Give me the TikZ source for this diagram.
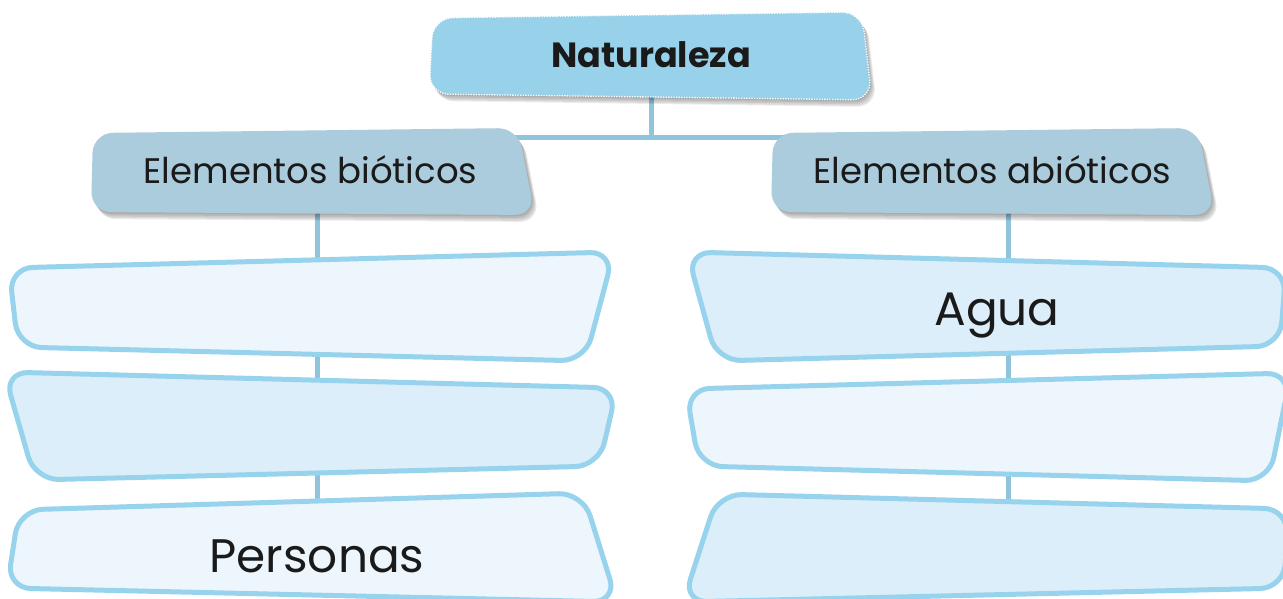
\documentclass[tikz,border=0pt]{standalone}
\usepackage{fontspec}
\setmainfont{Poppins}
\usetikzlibrary{calc}
\definecolor{natfill}{HTML}{97D1EA}
\definecolor{lvltwo}{HTML}{ABCCDC}
\definecolor{pale}{HTML}{EEF6FD}
\definecolor{soft}{HTML}{DCEEF9}
\definecolor{rim}{HTML}{97D3EC}
\definecolor{connc}{HTML}{8EC5DC}
\definecolor{ink}{HTML}{1A1A1A}
\newcommand\qfill[5]{\path[#1] ($(#2)!.5!(#3)$) -- (#3) -- (#4) -- (#5) -- (#2) -- cycle;}
\newcommand\qshadow[5]{%
  \foreach \sx/\sy in {1/1.5,2/3,3/4.5,4/6,5/7}{%
    \qfill{fill=black,opacity=0.075,rounded corners=#1,shift={(\sx,\sy)}}{#2}{#3}{#4}{#5}}}
\tikzset{
  lvlthree/.style={draw=rim,line width=5pt,rounded corners=24pt},
  lvltwobox/.style={fill=lvltwo,rounded corners=20pt},
  natbox/.style={fill=natfill,rounded corners=20pt,draw=white,line width=1.3pt,dash pattern=on 1.3pt off 1.3pt},
  connector/.style={draw=connc,line width=5pt},
  txtbig/.style={font=\fontsize{47}{54}\selectfont,text=ink,anchor=base,inner sep=0pt},
  txtmid/.style={font=\fontsize{35.5}{40}\selectfont,text=ink,anchor=base,inner sep=0pt},
  txtbold/.style={font=\fontsize{35}{40}\selectfont\bfseries,text=ink,anchor=base,inner sep=0pt},
}
\begin{document}
\begin{tikzpicture}[x=1pt,y=-1pt]
\useasboundingbox (0,0) rectangle (1283,599);
\clip (0,0) rectangle (1283,599);
\fill[white] (0,0) rectangle (1283,599);
% anchor coordinates of boxes
\coordinate (nat) at (651,56);
\coordinate (hub) at (651,138);
\coordinate (bio) at (317,172);
\coordinate (abio) at (1008,172);
\coordinate (l1) at (317,305);
\coordinate (l2) at (317,425);
\coordinate (l3) at (317,550);
\coordinate (r1) at (1008,305);
\coordinate (r2) at (1008,425);
\coordinate (r3) at (1008,550);
% connectors
\draw[connector] (nat) -- (hub);
\draw[connector] (bio) |- (hub) -| (abio);
\draw[connector] (bio) -- (l1);
\draw[connector] (l1) -- (l2);
\draw[connector] (l2) -- (l3);
\draw[connector] (abio) -- (r1);
\draw[connector] (r1) -- (r2);
\draw[connector] (r2) -- (r3);
% top box
\qshadow{20pt}{433,18}{862,12}{872,100}{429,94}
\qfill{natbox}{433,18}{862,12}{872,100}{429,94}
% level two
\qshadow{20pt}{93,133}{518,128}{535,215}{91,212}
\qfill{lvltwobox}{93,133}{518,128}{535,215}{91,212}
\qshadow{20pt}{773,133}{1198,128}{1215,215}{771,212}
\qfill{lvltwobox}{773,133}{1198,128}{1215,215}{771,212}
% level three
\qfill{lvlthree,fill=pale}{9,268}{614,252}{585,361}{18,347}
\qfill{lvlthree,fill=soft}{4,372}{617,388}{599,466}{35,480}
\qfill{lvlthree,fill=pale}{19,510}{583,493}{617,602}{7,588}
\qfill{lvlthree,fill=soft}{687,252}{1286,268}{1280,346}{717,361}
\qfill{lvlthree,fill=pale}{686,389}{1291,373}{1269,481}{699,466}
\qfill{lvlthree,fill=soft}{718,494}{1288,509}{1284,588}{683,602}
% texts
\node[txtbold] (natT) at (651,68) {Naturaleza};
\node[txtmid] (bioT) at (310.5,183) {Elementos bióticos};
\node[txtmid] (abioT) at (992.5,183) {Elementos abióticos};
\node[txtbig] (aguaT) at (997,325) {Agua};
\node[txtbig] (persT) at (317,572) {Personas};
\end{tikzpicture}
\end{document}
